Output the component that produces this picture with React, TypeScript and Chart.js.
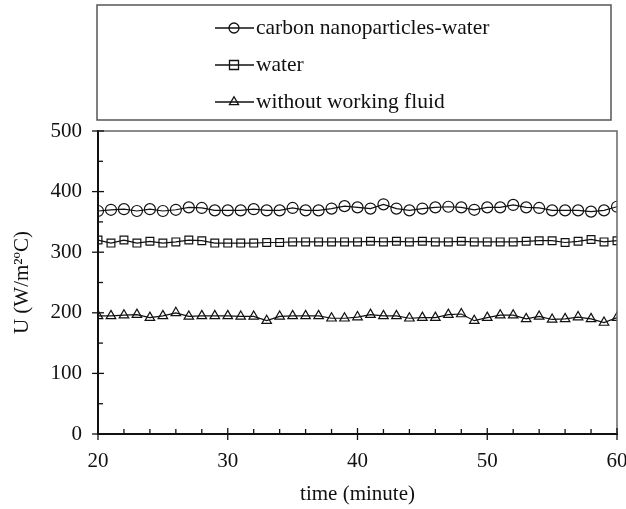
import React, { useEffect, useRef } from 'react';
import { Chart, registerables } from 'chart.js';

Chart.register(...registerables);

const minutes = [20, 21, 22, 23, 24, 25, 26, 27, 28, 29, 30, 31, 32, 33, 34, 35, 36, 37, 38, 39, 40, 41, 42, 43, 44, 45, 46, 47, 48, 49, 50, 51, 52, 53, 54, 55, 56, 57, 58, 59, 60];

const carbonWater = [368, 370, 371, 368, 371, 368, 370, 374, 373, 369, 369, 369, 371, 369, 369, 373, 369, 369, 372, 376, 374, 372, 379, 372, 369, 372, 374, 375, 374, 370, 374, 374, 378, 374, 373, 369, 369, 369, 367, 369, 375];

const water = [320, 315, 320, 315, 318, 315, 317, 320, 319, 315, 315, 315, 315, 316, 316, 317, 317, 317, 317, 317, 317, 318, 317, 318, 317, 318, 317, 317, 318, 317, 317, 317, 317, 318, 319, 319, 316, 318, 321, 317, 319];

const withoutFluid = [195, 195, 196, 197, 192, 195, 200, 194, 195, 195, 195, 194, 194, 187, 194, 195, 195, 195, 191, 191, 193, 197, 195, 195, 191, 192, 192, 197, 198, 187, 192, 196, 196, 190, 194, 189, 190, 193, 190, 184, 192];

const seriesLabels = ['carbon nanoparticles-water', 'water', 'without working fluid'];
const seriesMarkers = ['circle', 'rect', 'triangle'];
const xTickValues = [20, 30, 40, 50, 60];
const yTickValues = [0, 100, 200, 300, 400, 500];
const xTitle = 'time (minute)';
const yTitle = 'U (W/m²ºC)';

const FONT = '"Liberation Serif", "Times New Roman", serif';

function drawMarker(ctx: CanvasRenderingContext2D, style: string, x: number, y: number, r: number) {
  ctx.beginPath();
  if (style === 'circle') {
    ctx.arc(x, y, r, 0, Math.PI * 2);
  } else if (style === 'rect') {
    const s = r * 0.9;
    ctx.rect(x - s, y - s, 2 * s, 2 * s);
  } else {
    let rad = 0;
    const rr = r * 1.05;
    ctx.moveTo(x + Math.sin(rad) * rr, y - Math.cos(rad) * rr);
    rad += (2 * Math.PI) / 3;
    ctx.lineTo(x + Math.sin(rad) * rr, y - Math.cos(rad) * rr);
    rad += (2 * Math.PI) / 3;
    ctx.lineTo(x + Math.sin(rad) * rr, y - Math.cos(rad) * rr);
    ctx.closePath();
  }
  ctx.stroke();
}

const framePlugin = {
  id: 'frameTicksLegend',
  afterDraw(chart: any) {
    const ctx: CanvasRenderingContext2D = chart.ctx;
    const { left, right, top, bottom } = chart.chartArea;
    const xs = chart.scales.x;
    const ys = chart.scales.y;
    ctx.save();
    // gray frame top/right
    ctx.strokeStyle = '#666';
    ctx.lineWidth = 1.5;
    ctx.beginPath();
    ctx.moveTo(left, top);
    ctx.lineTo(right, top);
    ctx.lineTo(right, bottom);
    ctx.stroke();
    // ticks
    ctx.strokeStyle = '#111';
    ctx.lineWidth = 1.3;
    for (let v = 20; v <= 60; v += 2) {
      const px = xs.getPixelForValue(v);
      ctx.beginPath();
      if (v % 10 === 0) {
        ctx.moveTo(px, bottom - 6);
        ctx.lineTo(px, bottom + 6);
      } else {
        ctx.moveTo(px, bottom);
        ctx.lineTo(px, bottom - 5);
      }
      ctx.stroke();
    }
    for (let v = 0; v <= 500; v += 50) {
      const py = ys.getPixelForValue(v);
      ctx.beginPath();
      if (v % 100 === 0) {
        ctx.moveTo(left - 6, py);
        ctx.lineTo(left + 6, py);
      } else {
        ctx.moveTo(left, py);
        ctx.lineTo(left + 5, py);
      }
      ctx.stroke();
    }
    // legend box
    ctx.strokeStyle = '#555';
    ctx.lineWidth = 1.5;
    ctx.strokeRect(97, 5, 514, 115);
    const rows = [28, 65, 102];
    ctx.font = '21.5px ' + FONT;
    ctx.textBaseline = 'middle';
    ctx.textAlign = 'left';
    ctx.fillStyle = '#111';
    chart.data.datasets.forEach((ds: any, i: number) => {
      const y = rows[i];
      ctx.strokeStyle = '#111';
      ctx.lineWidth = 1.3;
      ctx.beginPath();
      ctx.moveTo(215, y);
      ctx.lineTo(254, y);
      ctx.stroke();
      drawMarker(ctx, seriesMarkers[i], 234, y, 5);
      ctx.fillText(ds.label, 256, y);
    });
    ctx.restore();
  },
};

export default function App() {
  const canvasRef = useRef<HTMLCanvasElement | null>(null);

  useEffect(() => {
    if (!canvasRef.current) return;
    const series = [carbonWater, water, withoutFluid];
    const chart = new Chart(canvasRef.current, {
      type: 'line',
      data: {
        datasets: series.map((vals, i) => ({
          label: seriesLabels[i],
          data: minutes.map((m, j) => ({ x: m, y: vals[j] })),
          borderColor: '#111',
          borderWidth: 1.2,
          backgroundColor: 'rgba(0,0,0,0)',
          pointStyle: seriesMarkers[i] as any,
          pointRadius: 5.5,
          pointBorderWidth: 1.2,
          pointBorderColor: '#111',
          pointBackgroundColor: 'rgba(0,0,0,0)',
          tension: 0,
          fill: false,
        })),
      },
      options: {
        animation: false,
        responsive: true,
        maintainAspectRatio: false,
        layout: { padding: { top: 131, right: 9, left: 0, bottom: 0 } },
        plugins: {
          legend: { display: false },
          tooltip: { enabled: false },
          title: { display: false },
        },
        scales: {
          x: {
            type: 'linear',
            min: 20,
            max: 60,
            afterFit: (s: any) => {
              s.height = 75;
              s.paddingLeft = 0;
              s.paddingRight = 0;
            },
            afterBuildTicks: (s: any) => {
              s.ticks = xTickValues.map((v) => ({ value: v }));
            },
            grid: { display: false, drawTicks: false },
            border: { display: true, color: '#111', width: 2 },
            ticks: {
              padding: 15,
              color: '#111',
              font: { family: FONT, size: 21 },
              maxRotation: 0,
            },
            title: {
              display: true,
              text: xTitle,
              color: '#111',
              font: { family: FONT, size: 21 },
              padding: { top: 0, bottom: 2 },
            },
          },
          y: {
            type: 'linear',
            min: 0,
            max: 500,
            afterFit: (s: any) => {
              s.width = 98;
            },
            afterBuildTicks: (s: any) => {
              s.ticks = yTickValues.map((v) => ({ value: v }));
            },
            grid: { display: false, drawTicks: false },
            border: { display: true, color: '#111', width: 2 },
            ticks: {
              padding: 16,
              color: '#111',
              font: { family: FONT, size: 21 },
            },
            title: {
              display: true,
              text: yTitle,
              color: '#111',
              font: { family: FONT, size: 21 },
              padding: { top: 10, bottom: 0 },
            },
          },
        },
      },
      plugins: [framePlugin],
    });
    return () => chart.destroy();
  }, []);

  return (
    <div style={{ position: 'fixed', left: 0, top: 0, width: 626, height: 509, background: '#fff' }}>
      <canvas ref={canvasRef} />
    </div>
  );
}
